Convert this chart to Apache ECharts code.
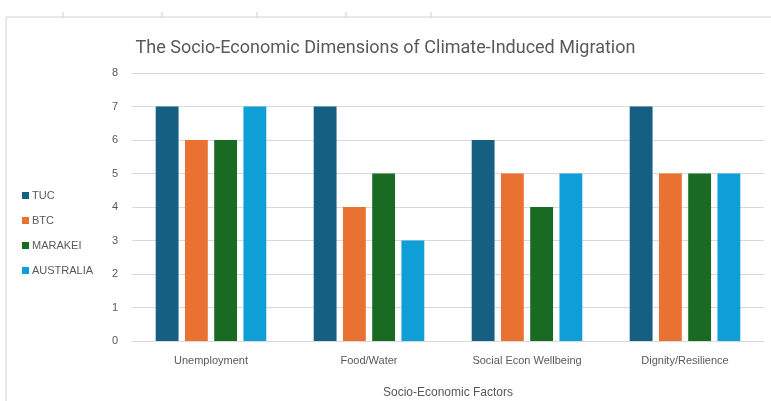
<!DOCTYPE html>
<html>
<head>
<meta charset="utf-8">
<script src="https://cdn.jsdelivr.net/npm/echarts@6/dist/echarts.min.js"></script>
<style>
  html, body { margin: 0; padding: 0; background: #fff; }
  #chart { width: 771px; height: 401px; }
</style>
</head>
<body>
<div id="chart"></div>
<script>
// data
var categories = ['Unemployment', 'Food/Water', 'Social Econ Wellbeing', 'Dignity/Resilience'];
var seriesNames = ['TUC', 'BTC', 'MARAKEI', 'AUSTRALIA'];
var tuc = [7, 7, 6, 7];
var btc = [6, 4, 5, 5];
var marakei = [6, 5, 4, 5];
var australia = [7, 3, 5, 5];
var colors = ['#156082', '#E97132', '#196B24', '#0F9ED5'];

var chart = echarts.init(document.getElementById('chart'));

function bar(name, data) {
    return {
        name: name,
        type: 'bar',
        data: data,
        barGap: '28%',
        barCategoryGap: '30%',
        animation: false
    };
}

chart.setOption({
    color: colors,
    textStyle: { fontFamily: 'Liberation Sans' },
    title: {
        text: 'The Socio-Economic Dimensions of Climate-Induced Migration',
        left: 'center',
        top: 34,
        textStyle: { fontSize: 18, fontWeight: 'normal', color: '#595959', fontFamily: 'Roboto' }
    },
    legend: {
        orient: 'vertical',
        left: 17,
        top: 185,
        itemWidth: 7,
        itemHeight: 7,
        itemGap: 14,
        icon: 'rect',
        textStyle: { fontSize: 11, color: '#595959', padding: [0, 0, 0, -2] },
        data: seriesNames
    },
    grid: { left: 132, right: 7, top: 73, bottom: 60, outerBoundsMode: 'none' },
    xAxis: {
        type: 'category',
        data: categories,
        name: 'Socio-Economic Factors',
        nameLocation: 'middle',
        nameGap: 46,
        nameTextStyle: { fontSize: 12, color: '#595959' },
        axisTick: { show: false },
        axisLine: { lineStyle: { color: '#d9d9d9' } },
        axisLabel: { fontSize: 11, color: '#595959', margin: 14 }
    },
    yAxis: {
        type: 'value',
        min: 0,
        max: 8,
        interval: 1,
        axisLabel: { fontSize: 11, color: '#595959', margin: 14 },
        splitLine: { lineStyle: { color: '#d9d9d9' } }
    },
    graphic: [
        { type: 'line', shape: { x1: 6, y1: 17, x2: 771, y2: 17 }, style: { stroke: '#d0d0d0', lineWidth: 1 } },
        { type: 'line', shape: { x1: 6, y1: 17, x2: 6, y2: 401 }, style: { stroke: '#d0d0d0', lineWidth: 1 } },
        { type: 'line', shape: { x1: 63, y1: 12, x2: 63, y2: 17 }, style: { stroke: '#d0d0d0', lineWidth: 1 } },
        { type: 'line', shape: { x1: 162, y1: 12, x2: 162, y2: 17 }, style: { stroke: '#d0d0d0', lineWidth: 1 } },
        { type: 'line', shape: { x1: 257, y1: 12, x2: 257, y2: 17 }, style: { stroke: '#d0d0d0', lineWidth: 1 } },
        { type: 'line', shape: { x1: 346, y1: 12, x2: 346, y2: 17 }, style: { stroke: '#d0d0d0', lineWidth: 1 } },
        { type: 'line', shape: { x1: 431, y1: 12, x2: 431, y2: 17 }, style: { stroke: '#d0d0d0', lineWidth: 1 } }
    ],
    series: [
        bar(seriesNames[0], tuc),
        bar(seriesNames[1], btc),
        bar(seriesNames[2], marakei),
        bar(seriesNames[3], australia)
    ]
});
</script>
</body>
</html>
